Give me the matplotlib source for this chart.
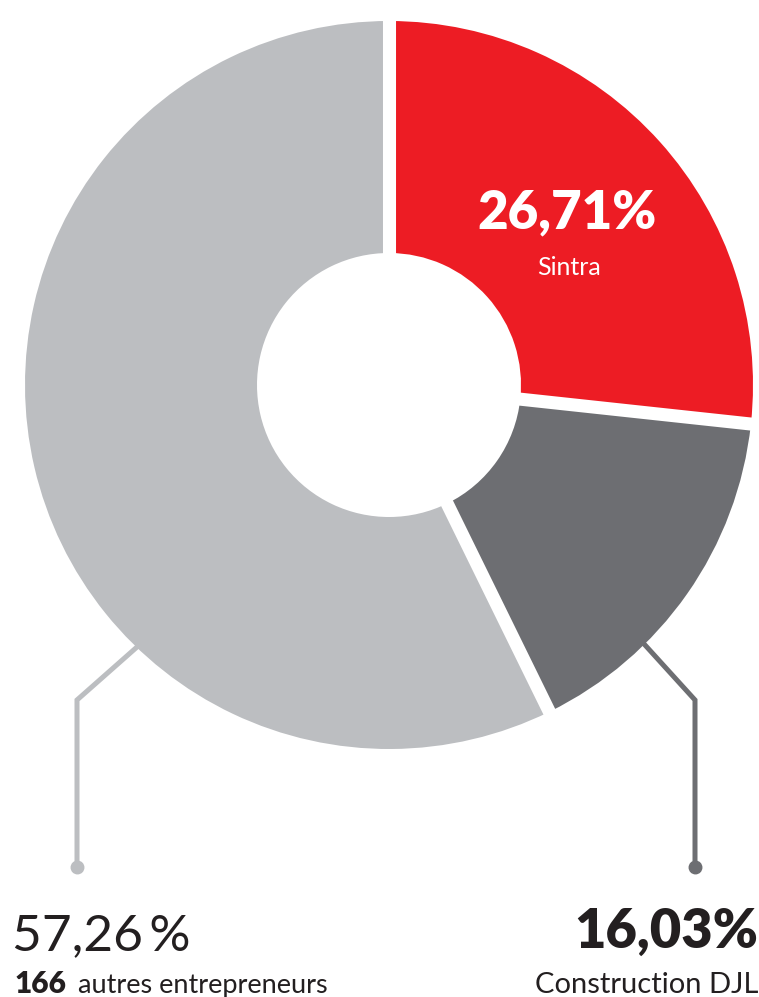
import matplotlib.pyplot as plt
import numpy as np

# shares of the market (%), clockwise from 12 o'clock
labels = ["Sintra", "Construction DJL", "166 autres entrepreneurs"]
shares = [26.71, 16.03, 57.26]
share_text = ["26,71%", "16,03%", "57,26\u2009%"]
colors = ["#ed1c24", "#6d6e72", "#bcbec1"]

W, H = 759, 997
fig = plt.figure(figsize=(W / 100, H / 100), dpi=100)
ax = fig.add_axes([0, 0, 1, 1])

cx, cy = 389, H - 385
r_out, r_in = 364, 132

# leader lines (behind the donut)
ax.plot([137, 77, 77], [H - 647, H - 700, H - 866], color=colors[2], lw=3.6,
        solid_joinstyle="miter", zorder=1)
ax.plot([77], [H - 867], "o", color=colors[2], ms=9, zorder=1)
ax.plot([645, 695, 695], [H - 645, H - 700, H - 866], color=colors[1], lw=3.6,
        solid_joinstyle="miter", zorder=1)
ax.plot([695], [H - 867], "o", color=colors[1], ms=9, zorder=1)

wedges, _ = ax.pie(shares, colors=colors, startangle=90, counterclock=False,
                   center=(cx, cy), radius=r_out,
                   wedgeprops=dict(width=r_out - r_in, linewidth=0))
for w in wedges:
    w.set_zorder(2)

# white separators between slices
ang = 90.0
for s in shares:
    a = np.deg2rad(ang)
    ax.plot([cx, cx + (r_out + 5) * np.cos(a)], [cy, cy + (r_out + 5) * np.sin(a)],
            color="white", lw=9.4, solid_capstyle="butt", zorder=3)
    ang -= s * 3.6

ax.set_xlim(0, W)
ax.set_ylim(0, H)
ax.set_aspect("equal")
ax.axis("off")

font = ["Lato", "DejaVu Sans"]
ink = "#231f20"
ax.text(567, H - 228, share_text[0], color="white", fontsize=38, fontweight="heavy",
        family=font, ha="center", va="baseline", zorder=4)
ax.text(569, H - 275, labels[0], color="white", fontsize=18, family=font,
        ha="center", va="baseline", zorder=4)

ax.text(12, H - 950, share_text[2], color=ink, fontsize=37, fontweight="normal",
        family=font, ha="left", va="baseline")
ax.text(15, H - 993, labels[2].split(" ", 1)[0], color=ink, fontsize=21.5,
        fontweight="heavy", family=font, ha="left", va="baseline")
ax.text(78, H - 993, labels[2].split(" ", 1)[1], color=ink, fontsize=19.5,
        family=font, ha="left", va="baseline")

ax.text(758, H - 948, share_text[1], color=ink, fontsize=39, fontweight="heavy",
        family=font, ha="right", va="baseline")
ax.text(758, H - 993, labels[1], color=ink, fontsize=21, family=font,
        ha="right", va="baseline")

fig.savefig("out.png", dpi=100)
